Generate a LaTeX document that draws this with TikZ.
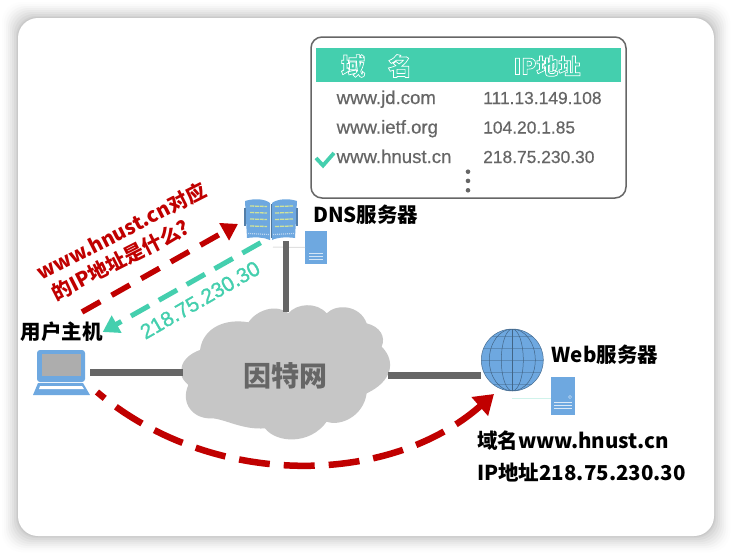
\documentclass[tikz,border=0pt]{standalone}
\usepackage{fontspec}
\usetikzlibrary{arrows.meta,calc}
\setmainfont{Liberation Sans}
\newfontfamily\cjkf{Noto Sans CJK SC}
\newfontfamily\rowf{Liberation Sans}[FakeBold=0.5]
\newfontfamily\ansf{Liberation Sans}[FakeBold=1.2]
\definecolor{teal1}{HTML}{44CFAE}
\definecolor{red1}{HTML}{C00000}
\definecolor{gray1}{HTML}{666666}
\definecolor{blue1}{HTML}{6EA8E0}
\definecolor{cloud1}{HTML}{C6C6C6}
\definecolor{bookline}{HTML}{CFE39A}
\newcommand{\fsz}[1]{\fontsize{#1}{#1}\selectfont}
\newcommand{\outl}[1]{\special{pdf:code q 1 1 1 RG 0.7 w 2 Tr}#1\special{pdf:code 0 Tr Q}}
\tikzset{
  anchorbox/.style={inner sep=0pt,outer sep=0pt},
  blacklabel/.style={font=\cjkf\bfseries\fontsize{20.5}{20.5}\selectfont,text=black,inner sep=0pt,anchor=west},
  rowword/.style={font=\rowf\fontsize{18.6}{18.6}\selectfont,text=gray1,inner sep=0pt,anchor=base west},
  rownum/.style={font=\rowf\fontsize{17.4}{17.4}\selectfont,text=gray1,inner sep=0pt,anchor=base west},
  headtext/.style={font=\cjkf\bfseries\fsz{24},text=teal1,inner sep=0pt},
  qtext/.style={anchorbox,rotate=27,text=red1,font=\cjkf\bfseries\fsz{20}},
  link/.style={draw=gray1,line width=6.5pt},
  redarrow/.style={draw=red1,line width=5.5pt,dash pattern=on 21pt off 13pt,-{Triangle[length=16pt,width=19pt]}},
  tealarrow/.style={draw=teal1,line width=5pt,dash pattern=on 21pt off 11pt,-{Triangle[length=16pt,width=19pt]}},
  serverbox/.style={fill=blue1,draw=none},
  thinlink/.style={draw=black!12,line width=1pt},
}
\begin{document}
\begin{tikzpicture}[x=1pt,y=-1pt]
\useasboundingbox (0,0) rectangle (732,554);
% window shadow
\fill[white] (0,0) rectangle (732,554);
\foreach \d/\c in {16/3,14/6,12/10,10/14,8/18,6/22,4/26,2/30,1/34}{
  \fill[black!\c!white,opacity=0.2,rounded corners=20pt] ({18-\d},{18-\d}) rectangle ({714+\d},{536+\d});
}
\fill[white,rounded corners=20pt] (18,18) rectangle (714,536);

% anchors of the main devices
\node[anchorbox,minimum width=52pt,minimum height=40pt] (dns) at (271,220) {};
\node[anchorbox,minimum width=57pt,minimum height=45pt] (host) at (61.5,372.5) {};
\node[anchorbox,circle,minimum size=62pt] (web) at (512.3,360) {};

% cloud
\begin{scope}[shift={(170,290)},x=0.33333pt,y=-0.33333pt]
\fill[cloud1] (35,245)
  .. controls (30,215) and (60,190) .. (90,180)
  .. controls (100,110) and (170,85) .. (235,97)
  .. controls (260,60) and (320,40) .. (355,70)
  .. controls (380,40) and (440,35) .. (470,70)
  .. controls (500,40) and (570,45) .. (590,100)
  .. controls (630,110) and (648,140) .. (635,170)
  .. controls (680,215) and (665,275) .. (590,310)
  .. controls (580,380) and (510,410) .. (470,395)
  .. controls (420,465) and (320,460) .. (285,415)
  .. controls (220,420) and (170,390) .. (130,385)
  .. controls (70,390) and (30,340) .. (55,285)
  .. controls (45,275) and (30,262) .. (35,245) -- cycle;
\end{scope}
\node[anchorbox,minimum width=205pt,minimum height=127pt,font=\cjkf\bfseries\fsz{28},text=gray1] (cloud) at (285.5,375.5) {因特网};

% thin server links
\coordinate (dnslinkA) at (273,247);
\coordinate (weblinkA) at (512,398.7);
\node[serverbox,anchorbox,minimum width=22pt,minimum height=33pt] (dnssrv) at (316,247.5) {};
\node[serverbox,anchorbox,minimum width=24.5pt,minimum height=38.5pt] (websrv) at (562.8,396) {};
\draw[thinlink] (dnslinkA) -- (dnssrv.west);
\draw[draw=teal1!25,line width=1pt] (weblinkA) -- (websrv.west |- weblinkA);
\foreach \y in {253,256,259}{\draw[white!70!blue1,line width=0.7pt] (309,\y) -- (323,\y);}
\foreach \y in {402,405,408}{\draw[white!75!blue1,line width=0.8pt] (554,\y) -- (572,\y);}
\draw[white!60!blue1,line width=0.5pt] (570,397) circle (1.6);

% links
\coordinate (dnsfoot) at (286,241);
\coordinate (cloudtop) at (286,312);
\draw[link] (dnsfoot) -- (cloudtop);
\draw[link,line width=7pt] (host.east) -- (host.east -| cloud.west);
\draw[link,line width=7pt] (cloud.east) -- (cloud.east -| web.west);

% book
\fill[blue1] (245,201) .. controls (255,198) and (265,199) .. (270,203) -- (270,240) .. controls (263,237) and (255,237) .. (247,238) -- cycle;
\fill[blue1] (272,203) .. controls (277,199) and (288,198) .. (297,201) -- (295,238) .. controls (288,237) and (278,237) .. (272,240) -- cycle;
\fill[blue1!75!black] (244,208) rectangle (246,226);
\fill[blue1!75!black] (296,208) rectangle (298,226);
\draw[blue1!70!black,line width=0.8pt] (271,204) -- (271,238);
\foreach \y in {206,212.5,219,226}{
  \draw[bookline,line width=1.3pt,dash pattern=on 4pt off 0.8pt] (250,\y) -- (267,{\y+0.5});
  \draw[bookline,line width=1.3pt,dash pattern=on 4pt off 0.8pt] (275,{\y+0.5}) -- (293,\y);
}
\draw[white!55!blue1,line width=1.2pt,dash pattern=on 1pt off 1pt] (248,233.5) -- (269,234.5);
\draw[white!55!blue1,line width=1.2pt,dash pattern=on 1pt off 1pt] (273,234.5) -- (294,233.5);

% laptop
\fill[blue1,rounded corners=3pt] (37,350) rectangle (85,382);
\fill[black!32] (42,354) rectangle (81,376);
\fill[blue1] (38,383) -- (83,383) -- (90,395) -- (33,395) -- cycle;
\fill[white] (40,386) -- (82,386) -- (84,389) -- (39,389) -- cycle;

% globe
\fill[blue1] (web.center) circle (31);
\begin{scope}
  \clip (web.center) circle (31);
  \foreach \dy in {-24,-12,0,12,24}{\draw[black!18!blue1,line width=0.7pt] ($(web.center)+(-31,\dy)$) -- ($(web.center)+(31,\dy)$);}
  \foreach \rx in {11,23}{\draw[black!40!blue1,line width=0.5pt] (web.center) ellipse ({\rx} and 31);}
  \draw[black!40!blue1,line width=0.5pt] ($(web.center)+(0,-31)$) -- ($(web.center)+(0,31)$);
\end{scope}
\draw[black!35!blue1,line width=0.5pt] (web.center) circle (31);

% table
\node[anchorbox,draw=gray1,line width=1.5pt,rounded corners=11pt,minimum width=315pt,minimum height=161pt] (tbl) at (468.5,117.5) {};
\node[anchorbox,fill=teal1,minimum width=305pt,minimum height=34pt] (hdr) at (468.5,65) {};
\node[headtext] (hA) at (353,66) {\outl{域}};
\node[headtext] (hB) at (400,66) {\outl{名}};
\node[headtext,font=\cjkf\bfseries\fsz{22}] (hC) at (547,66) {\outl{IP地址}};
\node[rowword] (r1a) at (336.5,104) {www.jd.com};
\node[rowword] (r2a) at (336.5,133.5) {www.ietf.org};
\node[rowword] (r3a) at (336.5,163) {www.hnust.cn};
\node[rownum] (r1b) at (483,104) {111.13.149.108};
\node[rownum] (r2b) at (483,133.5) {104.20.1.85};
\node[rownum] (r3b) at (483,163) {218.75.230.30};
\draw[teal1,line width=3.8pt] (316,158) -- (323,165.5) -- (334,153);
\foreach \y in {171.7,180.9,190.3}{\fill[gray1] (468,\y) circle (2.3);}

% labels
\node[blacklabel] (dnslabel) at (313,215) {DNS服务器};
\node[blacklabel,anchor=center] (hostlabel) at (61.5,332) {用户主机};
\node[blacklabel] (weblabel) at (551.5,355) {Web服务器};
\node[blacklabel] (webname) at (477,441) {域名www.hnust.cn};
\node[blacklabel] (webip) at (477,473) {IP地址218.75.230.30};

% rotated labels
\node[qtext] (qlabelA) at (121,231.5) {www.hnust.cn对应};
\node[qtext] (qlabelB) at (120.5,260) {的IP地址是什么?};
\node[anchorbox,rotate=30,text=teal1,font=\ansf\fsz{21}] (alabel) at (200,300) {218.75.230.30};

% arrows
\coordinate (qstart) at (82,312);
\coordinate (astart) at (260.7,242.7);
\coordinate (cstart) at (97,392);
\coordinate (cend) at (494,394);
\path[redarrow,shorten >=8pt] (qstart) -- (dns.west);
\path[tealarrow] (astart) -- (hostlabel.east);
\path[redarrow,line width=6.5pt,dash pattern=on 31pt off 14pt,dash phase=21pt,-{Triangle[length=19pt,width=24pt]}] (cstart) .. controls (210,488) and (387,488) .. (cend);
\end{tikzpicture}
\end{document}
